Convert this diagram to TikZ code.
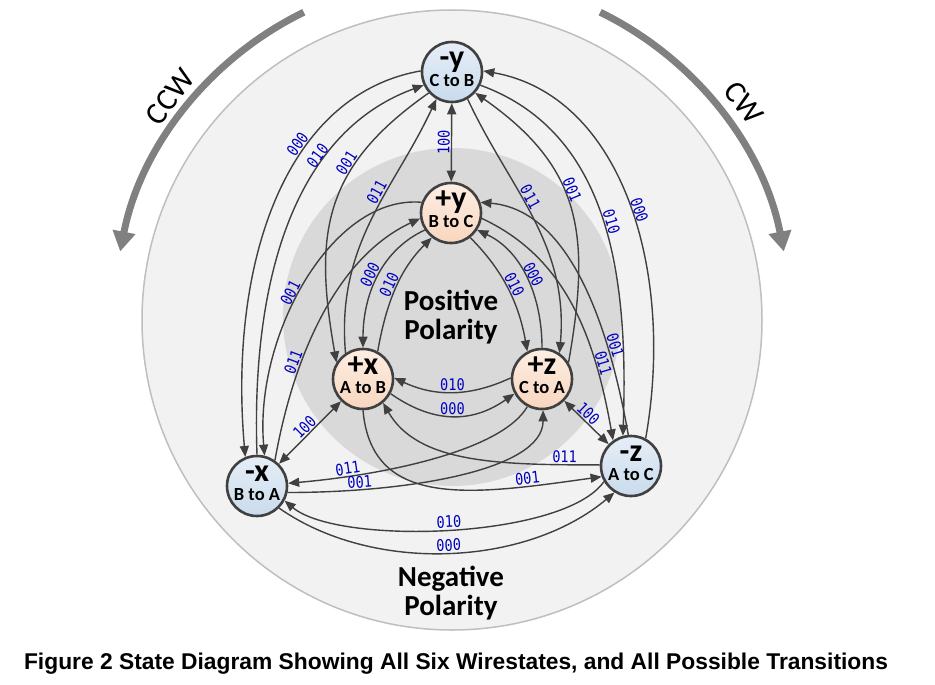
\documentclass[tikz,border=0pt]{standalone}
\usepackage{fontspec}
\setmainfont{Carlito}
\newfontfamily\capfont{Liberation Sans}
\newfontfamily\codefont[FakeStretch=0.85]{DejaVu Sans Mono}
\usetikzlibrary{arrows.meta}
\definecolor{edgec}{HTML}{404040}
\definecolor{lblc}{HTML}{0000C0}
\definecolor{negA}{HTML}{E6EEF7}
\definecolor{negB}{HTML}{C9DBEC}
\definecolor{posA}{HTML}{FDEEE4}
\definecolor{posB}{HTML}{F8D6BE}
\definecolor{outerf}{HTML}{F2F2F2}
\definecolor{outerd}{HTML}{BFBFBF}
\definecolor{innerf}{HTML}{D9D9D9}
\definecolor{arrowg}{HTML}{808080}
\newcommand\sttxt[2]{\makebox[0pt]{\raisebox{5pt}{\fontsize{32}{32}\selectfont\bfseries #1}}\makebox[0pt]{\raisebox{-14pt}{\fontsize{18.5}{18.5}\selectfont\bfseries #2}}}
\tikzset{
  st/.style={circle, minimum size=60pt, inner sep=0pt, line width=2.6pt, draw=edgec, text height=0pt, text depth=0pt},
  negst/.style={st, top color=negA, bottom color=negB},
  posst/.style={st, top color=posA, bottom color=posB},
  tipA/.tip={Triangle[length=11pt,width=9pt]},
  edge/.style={draw=edgec, line width=1.4pt, -tipA},
  dedge/.style={draw=edgec, line width=1.4pt, tipA-tipA},
  lbl/.style={font=\codefont\fontsize{16}{16}\selectfont, text=lblc, sloped, above, inner sep=1pt},
  rot/.style={draw=arrowg, line width=7pt, -{Triangle[length=20pt,width=22pt]}},
  rottxt/.style={font=\fontsize{31}{31}\selectfont},
  pol/.style={font=\bfseries\fontsize{29}{29}\selectfont, anchor=base},
}
\begin{document}
\begin{tikzpicture}[x=1pt,y=1pt]
\useasboundingbox (0,0) rectangle (935,-685);
\fill[white] (0,0) rectangle (935,-685);
\draw[fill=outerf, draw=outerd, line width=1.5pt] (452,-320) circle[radius=310];
\fill[innerf] (452,-317) circle[radius=169];
% rotation arrows
\draw[rot] (452,-316) ++(116:338) arc[start angle=116, end angle=169, radius=338];
\draw[rot] (452,-316) ++(64:338) arc[start angle=64, end angle=11, radius=338];
\node[rottxt, rotate=52] (ccw) at (170,-97) {CCW};
\node[rottxt, rotate=-52] (cw) at (744,-103) {CW};
% polarity texts
\node[pol] (p1) at (451,-310) {Positive};
\node[pol] (p2) at (451,-339) {Polarity};
\node[pol] (n1) at (451,-586) {Negative};
\node[pol] (n2) at (451,-615) {Polarity};
% states
\node[negst] (ym) at (452,-72) {\sttxt{-y}{C to B}};
\node[posst] (yp) at (451,-213) {\sttxt{+y}{B to C}};
\node[posst] (xp) at (363,-379) {\sttxt{+x}{A to B}};
\node[posst] (zp) at (542,-379) {\sttxt{+z}{C to A}};
\node[negst] (xm) at (257,-486) {\sttxt{-x}{B to A}};
\node[negst] (zm) at (631,-466) {\sttxt{-z}{A to C}};
% opposite transitions
\draw[dedge] (yp) -- node[lbl]{100} (ym);
\draw[dedge] (xm) -- node[lbl]{100} (xp);
\draw[dedge] (zp) -- node[lbl,pos=0.42]{100} (zm);
% positive triangle
\draw[edge] (zp.178) .. controls +(205:45) and +(-25:45) .. node[lbl]{010} (xp.2);
\draw[edge] (xp.-28) .. controls +(-35:52) and +(215:52) .. node[lbl]{000} (zp.208);
\draw[edge] (yp.213) .. controls +(205:50) and +(90:50) .. node[lbl]{000} (xp.90);
\draw[edge] (xp.62) .. controls +(80:50) and +(225:45) .. node[lbl]{010} (yp.232);
\draw[edge] (yp.-52) .. controls +(-45:45) and +(100:50) .. node[lbl]{010} (zp.118);
\draw[edge] (zp.90) .. controls +(90:50) and +(-25:50) .. node[lbl]{000} (yp.-33);
% negative triangle
\draw[edge] (ym.178) .. controls +(190:140) and +(95:190) .. node[lbl,pos=0.36]{000} (xm.112);
\draw[edge] (xm.90) .. controls +(92:170) and +(200:140) .. node[lbl,pos=0.68]{010} (ym.205);
\draw[edge] (zm.62) .. controls +(80:172) and +(-10:140) .. node[lbl,pos=0.47]{000} (ym.2);
\draw[edge] (ym.-25) .. controls +(-20:140) and +(88:155) .. node[lbl,pos=0.51]{010} (zm.105);
\draw[edge] (zm.210) .. controls +(235:70) and +(-40:70) .. node[lbl]{010} (xm.-28);
\draw[edge] (xm.-45) .. controls +(-35:115) and +(220:115) .. node[lbl]{000} (zm.238);
% cross polarity
\draw[edge] (zm.178) .. controls +(180:100) and +(-60:70) .. node[lbl,pos=0.12]{011} (xp.-50);
\draw[edge] (xp.-90) .. controls +(-85:100) and +(188:130) .. node[lbl,pos=0.8]{001} (zm.200);
\draw[edge] (zp.-118) .. controls +(-120:50) and +(5:100) .. node[lbl,pos=0.8]{011} (xm.5);
\draw[edge] (xm.-12) .. controls +(0:120) and +(-90:60) .. node[lbl,pos=0.2]{001} (zp.-88);
\draw[edge] (xp.124) .. controls +(95:110) and +(245:100) .. node[lbl,pos=0.6]{011} (ym.240);
\draw[edge] (ym.222) .. controls +(215:130) and +(100:130) .. node[lbl,pos=0.33]{001} (xp.148);
\draw[edge] (zp.32) .. controls +(80:130) and +(-35:130) .. node[lbl,pos=0.56]{001} (ym.-42);
\draw[edge] (ym.-60) .. controls +(-65:100) and +(85:110) .. node[lbl,pos=0.42]{011} (zp.56);
\draw[edge] (yp.160) .. controls +(175:90) and +(95:120) .. node[lbl,pos=0.55]{001} (xm.76);
\draw[edge] (xm.55) .. controls +(80:110) and +(205:90) .. node[lbl,pos=0.31]{011} (yp.190);
\draw[edge] (zm.95) .. controls +(100:110) and +(-5:90) .. node[lbl,pos=0.27]{001} (yp.20);
\draw[edge] (yp.-10) .. controls +(-25:90) and +(100:110) .. node[lbl,pos=0.75]{011} (zm.125);
% caption
\node[font=\capfont\bfseries\fontsize{22.8}{24}\selectfont, anchor=base] (cap) at (456,-669) {Figure 2 State Diagram Showing All Six Wirestates, and All Possible Transitions};
\end{tikzpicture}
\end{document}
